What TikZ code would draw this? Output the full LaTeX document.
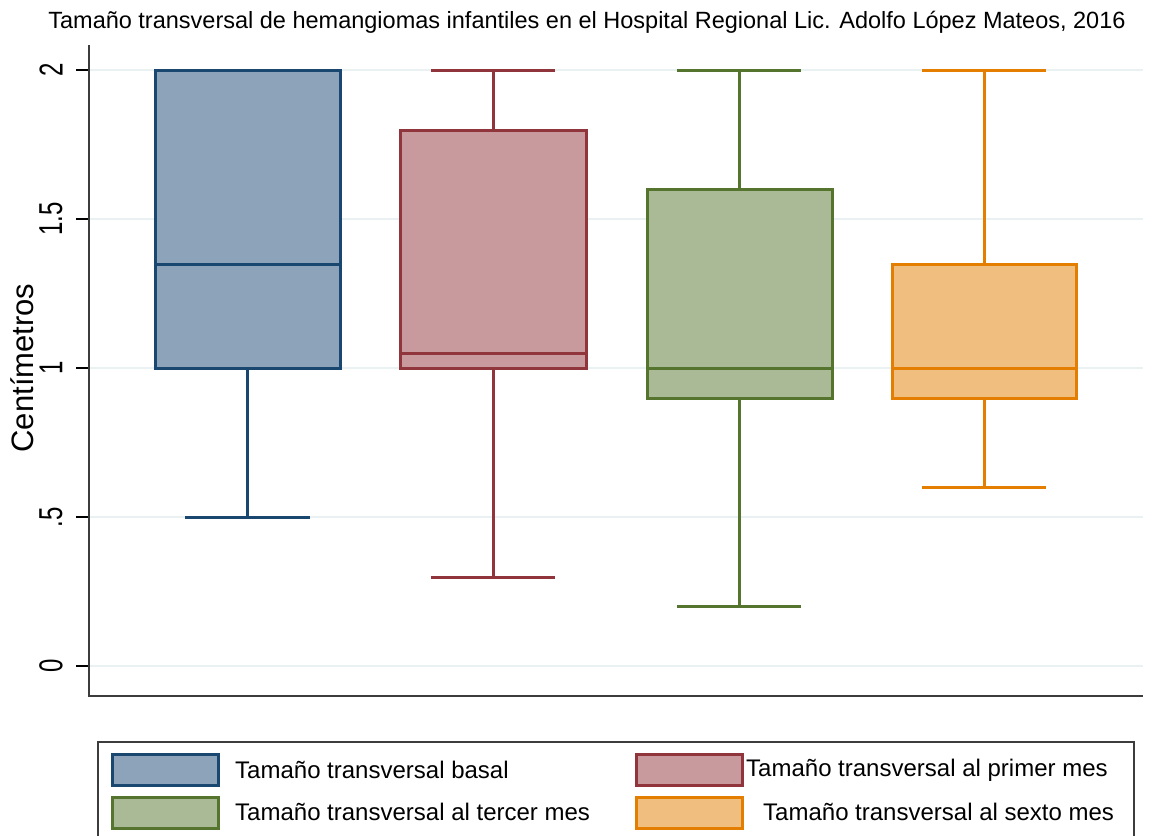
\documentclass[tikz,border=0pt]{standalone}
\usepackage{fontspec}
\setmainfont{Liberation Sans}
\usetikzlibrary{positioning}
\definecolor{navyline}{RGB}{26,71,111}
\definecolor{navyfill}{RGB}{141,163,185}
\definecolor{maroonline}{RGB}{144,53,59}
\definecolor{maroonfill}{RGB}{200,154,157}
\definecolor{greenline}{RGB}{85,117,47}
\definecolor{greenfill}{RGB}{170,185,150}
\definecolor{orangeline}{RGB}{227,126,0}
\definecolor{orangefill}{RGB}{240,190,126}
\definecolor{gridcol}{RGB}{233,241,243}
\definecolor{axiscol}{RGB}{60,60,60}
\tikzset{
  gridline/.style={gridcol, line width=2pt},
  axisline/.style={axiscol, line width=2.2pt},
  tickmark/.style={black, line width=1.4pt},
  ticklabel/.style={rotate=90, font=\fontsize{24}{24}\selectfont},
  navybox/.style={draw=navyline, fill=navyfill, line width=3pt},
  maroonbox/.style={draw=maroonline, fill=maroonfill, line width=3pt},
  greenbox/.style={draw=greenline, fill=greenfill, line width=3pt},
  orangebox/.style={draw=orangeline, fill=orangefill, line width=3pt},
  legendtext/.style={anchor=west, inner sep=0pt, font=\fontsize{24}{24}\selectfont}
}

\begin{document}
\begin{tikzpicture}[x=1pt, y=-1pt]
\useasboundingbox[fill=white] (0,0) rectangle (1161,835);

% title
\node[font=\fontsize{23.5}{23.5}\selectfont] (title) at (587,22)
  {Tamaño transversal de hemangiomas infantiles en el Hospital Regional Lic. Adolfo López Mateos, 2016};

% grid, ticks and labels
\foreach \yy/\lab in {666/0, 517/.5, 368/1, 219/1.5, 70/2} {
  \draw[gridline] (90,\yy) -- (1143,\yy);
  \draw[tickmark] (76,\yy) -- (89,\yy);
  \node[ticklabel] (tick\yy) at (51,\yy) {\scalebox{1}[1.38]{\lab}};
}
\node[rotate=90, font=\fontsize{31}{31}\selectfont] (ytitle) at (22,368) {Centímetros};

% axes
\draw[axisline] (89,45) -- (89,696) -- (1143,696);

% basal
\draw[navyline, line width=3pt] (247,368) -- (247,517);
\draw[navyline, line width=3pt] (185,517) -- (310,517);
\draw[navybox] (155,70) rectangle (340,368);
\draw[navyline, line width=3pt] (155,264) -- (340,264);

% primer mes
\draw[maroonline, line width=3pt] (493,130) -- (493,70);
\draw[maroonline, line width=3pt] (431,70) -- (555,70);
\draw[maroonline, line width=3pt] (493,368) -- (493,577);
\draw[maroonline, line width=3pt] (431,577) -- (555,577);
\draw[maroonbox] (400,130) rectangle (586,368);
\draw[maroonline, line width=3pt] (400,353) -- (586,353);

% tercer mes
\draw[greenline, line width=3pt] (739,189) -- (739,70);
\draw[greenline, line width=3pt] (677,70) -- (801,70);
\draw[greenline, line width=3pt] (739,398) -- (739,606);
\draw[greenline, line width=3pt] (677,606) -- (801,606);
\draw[greenbox] (647,189) rectangle (832,398);
\draw[greenline, line width=3pt] (647,368) -- (832,368);

% sexto mes
\draw[orangeline, line width=3pt] (984,264) -- (984,70);
\draw[orangeline, line width=3pt] (922,70) -- (1046,70);
\draw[orangeline, line width=3pt] (984,398) -- (984,487);
\draw[orangeline, line width=3pt] (922,487) -- (1046,487);
\draw[orangebox] (892,264) rectangle (1076,398);
\draw[orangeline, line width=3pt] (892,368) -- (1078,368);

% legend
\draw[axiscol, line width=1.6pt] (98,840) -- (98,742) -- (1134,742) -- (1134,840);
\draw[navybox] (112,754) rectangle (218,785);
\node[legendtext] (leg1) at (235,770) {Tamaño transversal basal};
\draw[maroonbox] (636,754) rectangle (742,785);
\node[legendtext] (leg2) at (746,770) {Tamaño transversal al primer mes};
\draw[greenbox] (112,797) rectangle (218,828);
\node[legendtext] (leg3) at (235,812) {Tamaño transversal al tercer mes};
\draw[orangebox] (636,797) rectangle (742,828);
\node[legendtext] (leg4) at (763,812) {Tamaño transversal al sexto mes};
\end{tikzpicture}
\end{document}
